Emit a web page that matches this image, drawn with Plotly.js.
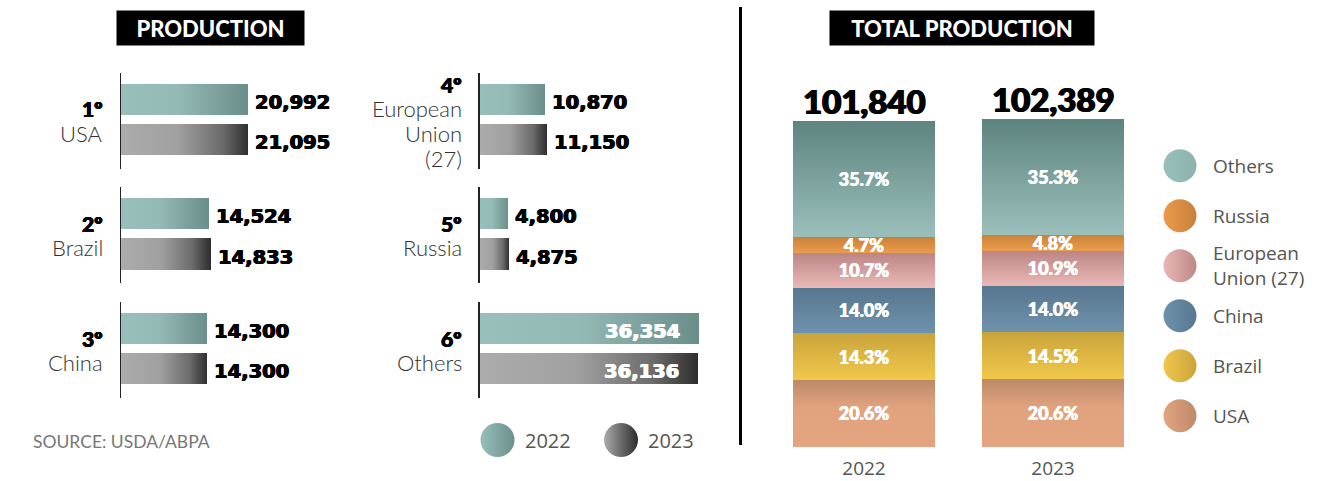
<!DOCTYPE html>
<html>
<head>
<meta charset="utf-8">
<script src="https://cdn.plot.ly/plotly-3.0.1.min.js"></script>
<style>
  html, body { margin: 0; padding: 0; background: #ffffff; }
  #chart { width: 1340px; height: 481px; }
</style>
</head>
<body>
<div id="chart"></div>
<script>
// ---------------- DATA ----------------
const years = ['2022', '2023'];
const countries = ['USA', 'Brazil', 'China', 'European Union (27)', 'Russia', 'Others'];
const ranks = ['1º', '2º', '3º', '4º', '5º', '6º'];
const rankLabels = ['USA', 'Brazil', 'China', 'European<br>Union<br>(27)', 'Russia', 'Others'];
const legendLabels = ['USA', 'Brazil', 'China', 'European<br>Union (27)', 'Russia', 'Others'];
const production2022 = [20992, 14524, 14300, 10870, 4800, 36354];
const production2023 = [21095, 14833, 14300, 11150, 4875, 36136];
const sourceText = 'SOURCE: USDA/ABPA';
const leftTitle = 'PRODUCTION';
const rightTitle = 'TOTAL PRODUCTION';

// ---------------- HELPERS ----------------
const W = 1340, H = 481;
const px = x => x / W;
const py = y => 1 - y / H;
const fmt = v => v.toLocaleString('en-US');

const HEAVY = 'Lato, "DejaVu Sans", sans-serif';
const WIDEHEAVY = '"DejaVu Sans", Lato, sans-serif';
const LIGHT = 'Lato, "Open Sans", sans-serif';
const UI = '"Open Sans", "Noto Sans", sans-serif';
const thick = c => `0.6px 0 0 ${c}, -0.6px 0 0 ${c}, 0 0.4px 0 ${c}`;

const traces = [];
const annotations = [];
const layout = {
  width: W, height: H,
  margin: {l: 0, r: 0, t: 0, b: 0},
  paper_bgcolor: '#ffffff', plot_bgcolor: 'rgba(0,0,0,0)',
  showlegend: false,
  barmode: 'stack',
  font: {family: UI, color: '#333'},
  annotations: annotations,
  shapes: []
};

// ---------------- LEFT: six small bar charts ----------------
const colX = [121, 479.5];
const rowTop = [73, 187.3, 302];
const axisH = 95.5;
const pxPer1000 = 6.04;
const xMax = 40000;
const xWidthPx = xMax / 1000 * pxPer1000;

for (let i = 0; i < 6; i++) {
  const col = i < 3 ? 0 : 1;
  const row = i % 3;
  const n = i + 1;
  const xa = 'xaxis' + n, ya = 'yaxis' + n;
  const x0 = colX[col], top = rowTop[row];
  layout[xa] = {
    domain: [px(x0), px(x0 + xWidthPx)], range: [0, xMax],
    visible: false, fixedrange: true, anchor: 'y' + n
  };
  layout[ya] = {
    domain: [py(top + axisH), py(top)], type: 'category',
    categoryorder: 'array', categoryarray: years,
    range: [1.71, -0.65], showticklabels: false, ticks: '',
    showgrid: false, zeroline: false,
    showline: true, linecolor: '#222', linewidth: 1.5,
    anchor: 'x' + n, fixedrange: true
  };
  const vals = [production2022[i], production2023[i]];
  years.forEach((yr, k) => {
    traces.push({
      type: 'bar', orientation: 'h',
      x: [vals[k]], y: [yr],
      xaxis: 'x' + n, yaxis: 'y' + n,
      width: 0.77,
      marker: {color: k === 0 ? '#88aeaa' : '#808080', line: {width: 0}},
      meta: k === 0 ? 'gH2022' : 'gH2023',
      hoverinfo: 'skip'
    });
    const inside = (i === 5);
    const col = inside ? '#ffffff' : '#000000';
    annotations.push({
      xref: 'x' + n, yref: 'y' + n,
      x: vals[k], y: k,               // category index of the year
      text: fmt(vals[k]),
      showarrow: false,
      xanchor: inside ? 'right' : 'left',
      xshift: inside ? -17 : 5,
      yshift: -3,
      font: {family: WIDEHEAVY, size: 19.5, weight: 700, color: col, shadow: thick(col)}
    });
  });
  // rank + country label lines
  const lines = [{t: ranks[i], rank: true}].concat(rankLabels[i].split('<br>').map(t => ({t, rank: false})));
  const spacing = 24.5;
  const center = top + axisH / 2 + 0.5;
  lines.forEach((ln, j) => {
    const yc = center + (j - (lines.length - 1) / 2) * spacing;
    annotations.push({
      xref: 'paper', yref: 'paper',
      x: px(x0 - 16), y: py(yc),
      xanchor: 'right', yanchor: 'middle',
      text: ln.t, showarrow: false,
      font: ln.rank
        ? {family: HEAVY, size: 21, weight: 900, color: '#000', shadow: thick('#000')}
        : {family: LIGHT, size: 22, weight: 300, color: '#333'}
    });
  });
}

// ---------------- RIGHT: stacked total production ----------------
const totals = [production2022, production2023].map(a => a.reduce((s, v) => s + v, 0));
const stackGrad = ['gUSA', 'gBrazil', 'gChina', 'gEU', 'gRussia', 'gOthers'];
const stackFlat = ['#d19a77', '#e0b845', '#63849e', '#d4a09f', '#dc8e43', '#7ba19d'];
const barBottomPx = 447, barTopPx2022 = 121;
const yMax7 = totals[0] * (barBottomPx - 60) / (barBottomPx - barTopPx2022);
layout.xaxis7 = {
  domain: [px(769.5), px(1147.5)], range: [-0.5, 1.5], type: 'category',
  categoryorder: 'array', categoryarray: years,
  showgrid: false, zeroline: false, showline: false, ticks: '',
  tickfont: {family: UI, size: 19, color: '#555'},
  ticklabelstandoff: 8,
  anchor: 'y7', fixedrange: true
};
layout.yaxis7 = {
  domain: [py(barBottomPx), py(60)], range: [0, yMax7],
  visible: false, anchor: 'x7', fixedrange: true
};
countries.forEach((c, i) => {
  const v = [production2022[i], production2023[i]];
  traces.push({
    type: 'bar', x: years, y: v,
    xaxis: 'x7', yaxis: 'y7',
    width: 0.752,
    marker: {color: stackFlat[i], line: {width: 0}},
    meta: stackGrad[i],
    text: v.map((val, k) => (val / totals[k] * 100).toFixed(1) + '%'),
    textposition: 'inside', insidetextanchor: 'middle', textangle: 0,
    constraintext: 'none', cliponaxis: false,
    textfont: {family: HEAVY, size: 18, weight: 900, color: '#ffffff', shadow: '0.4px 0 0 #fff, -0.4px 0 0 #fff'},
    hoverinfo: 'skip', name: c
  });
});
years.forEach((yr, k) => {
  annotations.push({
    xref: 'x7', yref: 'y7', x: k, y: totals[k],
    text: fmt(totals[k]), showarrow: false,
    yanchor: 'bottom', yshift: -2,
    font: {family: HEAVY, size: 33, weight: 900, color: '#000', shadow: '0.8px 0 0 #000, -0.8px 0 0 #000'}
  });
});

// ---------------- RIGHT LEGEND ----------------
const legendOrder = countries.slice().reverse();           // Others at top
const legendText = legendLabels.slice().reverse();
const legendLeft = ['#e3a47f', '#f1c74a', '#6e91ab', '#e8b8b6', '#eb9a4c', '#99bfba'].reverse();
const legendRight = ['#bd8a6b', '#c9a53c', '#587790', '#bf8886', '#c8803a', '#8db3ae'].reverse();
layout.xaxis8 = {domain: [px(1160), px(1200)], range: [-1, 1], visible: false, anchor: 'y8', fixedrange: true};
layout.yaxis8 = {
  domain: [py(440.7), py(140.7)], type: 'category',
  categoryorder: 'array', categoryarray: legendOrder,
  range: [5.5, -0.5], visible: false, anchor: 'x8', fixedrange: true
};
traces.push({
  type: 'scatter', mode: 'markers',
  x: legendOrder.map(() => 0), y: legendOrder,
  xaxis: 'x8', yaxis: 'y8',
  marker: {symbol: 'circle', size: 33, color: legendLeft, line: {width: 0},
           gradient: {type: 'horizontal', color: legendRight}},
  hoverinfo: 'skip', cliponaxis: false
});
legendOrder.forEach((c, i) => {
  annotations.push({
    xref: 'x8', yref: 'y8', x: 0, y: i,
    xanchor: 'left', xshift: 31, align: 'left',
    text: legendText[i], showarrow: false,
    font: {family: UI, size: 19, color: '#555'}
  });
});

// ---------------- LEFT LEGEND (years) ----------------
layout.xaxis9 = {domain: [px(435.75), px(682.75)], range: [-0.5, 1.5], type: 'category',
  categoryorder: 'array', categoryarray: years, visible: false, anchor: 'y9', fixedrange: true};
layout.yaxis9 = {domain: [py(460), py(420)], range: [-1, 1], visible: false, anchor: 'x9', fixedrange: true};
traces.push({
  type: 'scatter', mode: 'markers',
  x: years, y: years.map(() => 0),
  xaxis: 'x9', yaxis: 'y9',
  marker: {symbol: 'circle', size: 34, color: ['#99bfba', '#ababab'], line: {width: 0},
           gradient: {type: 'horizontal', color: ['#6b8f8b', '#2c2c2c']}},
  hoverinfo: 'skip', cliponaxis: false
});
years.forEach((yr, k) => {
  annotations.push({
    xref: 'x9', yref: 'y9', x: k, y: 0,
    xanchor: 'left', xshift: 25, text: yr, showarrow: false,
    font: {family: UI, size: 20, color: '#555'}
  });
});

// ---------------- TITLES, SOURCE, SEPARATOR ----------------
annotations.push({
  xref: 'paper', yref: 'paper', x: px(210.5), y: py(28), xanchor: 'center', yanchor: 'middle',
  text: leftTitle, showarrow: false, bgcolor: '#000', borderpad: 0, width: 187, height: 34,
  font: {family: HEAVY, size: 22, weight: 900, color: '#fff'}
});
annotations.push({
  xref: 'paper', yref: 'paper', x: px(962), y: py(28), xanchor: 'center', yanchor: 'middle',
  text: rightTitle, showarrow: false, bgcolor: '#000', borderpad: 0, width: 264, height: 34,
  font: {family: HEAVY, size: 22, weight: 900, color: '#fff'}
});
annotations.push({
  xref: 'paper', yref: 'paper', x: px(31), y: py(441), xanchor: 'left', yanchor: 'middle',
  text: sourceText, showarrow: false,
  font: {family: LIGHT, size: 17.5, weight: 400, color: '#777'}
});
layout.shapes.push({
  type: 'line', xref: 'paper', yref: 'paper',
  x0: px(740.5), x1: px(740.5), y0: py(7), y1: py(445),
  line: {color: '#000', width: 3}
});

// ---------------- RENDER + GRADIENTS ----------------
const gradients = {
  gH2022: {dir: 'h', stops: [[0, '#99bfba'], [0.45, '#94bab5'], [1, '#6a8e8a']]},
  gH2023: {dir: 'h', stops: [[0, '#acacac'], [0.45, '#a0a0a0'], [0.8, '#6a6a6a'], [1, '#2e2e2e']]},
  gOthers: {dir: 'v', stops: [[0, '#5e8480'], [1, '#9bc0bb']]},
  gRussia: {dir: 'v', stops: [[0, '#c9823a'], [1, '#eb9b4c']]},
  gEU: {dir: 'v', stops: [[0, '#bb8584'], [1, '#eab9b7']]},
  gChina: {dir: 'v', stops: [[0, '#587790'], [1, '#6f92ac']]},
  gBrazil: {dir: 'v', stops: [[0, '#c9a43c'], [1, '#f2c84a']]},
  gUSA: {dir: 'v', stops: [[0, '#bc896a'], [0.4, '#e1a27e'], [1, '#e3a47f']]}
};

const gd = document.getElementById('chart');
Plotly.newPlot(gd, traces, layout, {staticPlot: true, displayModeBar: false}).then(() => {
  const NS = 'http://www.w3.org/2000/svg';
  const svg = gd.querySelector('.main-svg');
  let defs = svg.querySelector('defs');
  if (!defs) { defs = document.createElementNS(NS, 'defs'); svg.insertBefore(defs, svg.firstChild); }
  Object.keys(gradients).forEach(id => {
    const g = gradients[id];
    const lg = document.createElementNS(NS, 'linearGradient');
    lg.setAttribute('id', id);
    lg.setAttribute('x1', '0'); lg.setAttribute('y1', '0');
    lg.setAttribute('x2', g.dir === 'h' ? '1' : '0');
    lg.setAttribute('y2', g.dir === 'h' ? '0' : '1');
    g.stops.forEach(([o, c]) => {
      const s = document.createElementNS(NS, 'stop');
      s.setAttribute('offset', o); s.setAttribute('stop-color', c);
      lg.appendChild(s);
    });
    defs.appendChild(lg);
  });
  gd.querySelectorAll('g.trace.bars').forEach(tg => {
    const cd = tg.__data__;
    const tr = cd && cd[0] && cd[0].trace;
    if (!tr || !tr.meta) return;
    tg.querySelectorAll('g.point path').forEach(p => { p.style.fill = 'url(#' + tr.meta + ')'; });
  });
});
</script>
</body>
</html>
